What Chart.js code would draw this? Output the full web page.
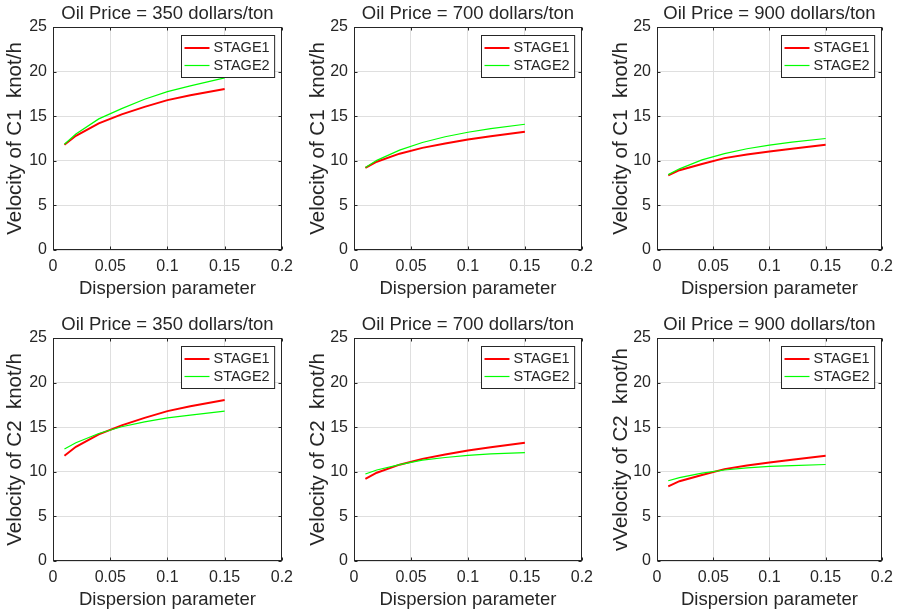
<!DOCTYPE html>
<html>
<head>
<meta charset="utf-8">
<script src="https://cdn.jsdelivr.net/npm/chart.js@4.4.1/dist/chart.umd.min.js"></script>
<style>
  body { margin: 0; background: #fff; }
  #wrap { position: relative; width: 900px; height: 614px; overflow: hidden; }
  .cell { position: absolute; width: 300px; height: 303px; }
</style>
</head>
<body>
<div id="wrap">
  <div class="cell" style="left:0px;top:0px"><canvas id="c0" width="300" height="303"></canvas></div>
  <div class="cell" style="left:300px;top:0px"><canvas id="c1" width="300" height="303"></canvas></div>
  <div class="cell" style="left:600px;top:0px"><canvas id="c2" width="300" height="303"></canvas></div>
  <div class="cell" style="left:0px;top:311px"><canvas id="c3" width="300" height="303"></canvas></div>
  <div class="cell" style="left:300px;top:311px"><canvas id="c4" width="300" height="303"></canvas></div>
  <div class="cell" style="left:600px;top:311px"><canvas id="c5" width="300" height="303"></canvas></div>
</div>
<script>
// Data
const dispersion = [0.01, 0.02, 0.04, 0.06, 0.08, 0.1, 0.12, 0.15];
const xTicks = [0, 0.05, 0.1, 0.15, 0.2];
const yTicks = [0, 5, 10, 15, 20, 25];
const seriesNames = ['STAGE1', 'STAGE2'];
const oilPrices = [350, 700, 900];
const yLabels = [
    'Velocity of C1  knot/h', 'Velocity of C1  knot/h', 'Velocity of C1  knot/h',
    'Velocity of C2  knot/h', 'Velocity of C2  knot/h', 'vVelocity of C2  knot/h'
];
const xLabel = 'Dispersion parameter';

// C1 velocity
const c1Stage1_350 = [11.8, 12.8, 14.2, 15.2, 16.05, 16.8, 17.35, 18.05];
const c1Stage2_350 = [11.85, 13.0, 14.7, 15.85, 16.9, 17.75, 18.4, 19.3];
const c1Stage1_700 = [9.2, 9.9, 10.8, 11.45, 11.95, 12.4, 12.75, 13.25];
const c1Stage2_700 = [9.25, 10.05, 11.2, 12.05, 12.7, 13.2, 13.6, 14.1];
const c1Stage1_900 = [8.37, 8.95, 9.65, 10.3, 10.7, 11.05, 11.35, 11.8];
const c1Stage2_900 = [8.45, 9.1, 10.1, 10.8, 11.35, 11.75, 12.1, 12.5];

// C2 velocity
const c2Stage1_350 = [11.8, 12.8, 14.2, 15.2, 16.05, 16.8, 17.35, 18.05];
const c2Stage2_350 = [12.55, 13.25, 14.3, 15.05, 15.6, 16.05, 16.35, 16.8];
const c2Stage1_700 = [9.2, 9.9, 10.8, 11.45, 11.95, 12.4, 12.75, 13.25];
const c2Stage2_700 = [9.75, 10.2, 10.8, 11.3, 11.6, 11.85, 12.0, 12.15];
const c2Stage1_900 = [8.37, 8.95, 9.65, 10.3, 10.7, 11.05, 11.35, 11.8];
const c2Stage2_900 = [9.0, 9.35, 9.85, 10.2, 10.45, 10.6, 10.7, 10.82];

const panelSeries = [
    [c1Stage1_350, c1Stage2_350],
    [c1Stage1_700, c1Stage2_700],
    [c1Stage1_900, c1Stage2_900],
    [c2Stage1_350, c2Stage2_350],
    [c2Stage1_700, c2Stage2_700],
    [c2Stage1_900, c2Stage2_900]
];

// Layout of each column inside its 300px canvas
const axisLeft = [53, 54, 57];
const axisRight = [283, 285, 287];
const yLabelCenter = [15.5, 18, 21];

const FONT = '"Liberation Sans", Arial, Helvetica, sans-serif';
const INK = '#262626';
const lineColors = ['#ff0000', '#00ff00'];
const lineWidths = [2, 1.2];
const yTitleSize = 20.5;

// Draws the MATLAB-like box, inward ticks, title and legend
const matlabPlugin = {
    id: 'matlab',
    afterDatasetsDraw(chart, args, opts) {
        const ctx = chart.ctx;
        const a = chart.chartArea;
        const sx = chart.scales.x;
        const sy = chart.scales.y;
        ctx.save();
        ctx.strokeStyle = INK;
        ctx.lineWidth = 1;
        const L = Math.round(a.left) + 0.5, R = Math.round(a.right) - 0.5;
        const T = Math.round(a.top) + 0.5, B = Math.round(a.bottom) - 0.5;
        ctx.strokeRect(L, T, R - L, B - T);
        ctx.beginPath();
        xTicks.forEach(v => {
            const px = Math.round(sx.getPixelForValue(v)) + 0.5;
            ctx.moveTo(px, B); ctx.lineTo(px, B - 3);
            ctx.moveTo(px, T); ctx.lineTo(px, T + 3);
        });
        yTicks.forEach(v => {
            const py = Math.round(sy.getPixelForValue(v)) + 0.5;
            ctx.moveTo(L, py); ctx.lineTo(L + 3, py);
            ctx.moveTo(R, py); ctx.lineTo(R - 3, py);
        });
        ctx.stroke();

        // title
        ctx.fillStyle = INK;
        ctx.font = '18.5px ' + FONT;
        ctx.textAlign = 'center';
        ctx.textBaseline = 'middle';
        ctx.fillText(opts.title, (a.left + a.right) / 2, a.top - 13);

        // legend
        ctx.font = '14.5px ' + FONT;
        const names = chart.data.datasets.map(d => d.label);
        const textW = Math.max(...names.map(n => ctx.measureText(n).width));
        const w = 3 + 25 + 4 + textW + 5;
        const h = 42;
        const bx = Math.round(a.right - 8 - w) + 0.5;
        const by = Math.round(a.top + 8) + 0.5;
        ctx.fillStyle = '#fff';
        ctx.fillRect(bx, by, w, h);
        ctx.strokeStyle = INK;
        ctx.lineWidth = 1;
        ctx.strokeRect(bx, by, w, h);
        chart.data.datasets.forEach((d, i) => {
            const ry = by + 12.5 + i * 17.5;
            ctx.strokeStyle = d.borderColor;
            ctx.lineWidth = d.borderWidth;
            ctx.beginPath();
            ctx.moveTo(bx + 3, ry);
            ctx.lineTo(bx + 28, ry);
            ctx.stroke();
            ctx.fillStyle = INK;
            ctx.textAlign = 'left';
            ctx.fillText(d.label, bx + 32, ry);
        });
        ctx.restore();
    }
};

function buildChart(i) {
    const col = i % 3;
    const padLeft = yLabelCenter[col] - yTitleSize * 0.6;
    const yWidth = axisLeft[col] - padLeft;
    const padRight = 300 - axisRight[col];
    const series = panelSeries[i];

    const datasets = series.map((vals, k) => ({
        label: seriesNames[k],
        data: dispersion.map((x, j) => ({ x: x, y: vals[j] })),
        borderColor: lineColors[k],
        backgroundColor: lineColors[k],
        borderWidth: lineWidths[k],
        pointRadius: 0,
        tension: 0,
        fill: false,
        order: 1 - k
    }));

    new Chart(document.getElementById('c' + i), {
        type: 'line',
        data: { datasets: datasets },
        options: {
            responsive: false,
            animation: false,
            events: [],
            layout: { padding: { top: 27, left: padLeft, right: padRight, bottom: 0 } },
            plugins: {
                legend: { display: false },
                tooltip: { enabled: false },
                matlab: { title: 'Oil Price = ' + oilPrices[col] + ' dollars/ton' }
            },
            scales: {
                x: {
                    type: 'linear',
                    min: xTicks[0],
                    max: xTicks[xTicks.length - 1],
                    afterBuildTicks: s => { s.ticks = xTicks.map(v => ({ value: v })); },
                    afterFit: s => { s.height = 53; },
                    grid: { color: '#dfdfdf', drawTicks: false },
                    border: { display: false },
                    ticks: {
                        padding: 7,
                        color: INK,
                        font: { family: FONT, size: 16 },
                        maxRotation: 0,
                        callback: v => String(v)
                    },
                    title: {
                        display: true,
                        text: xLabel,
                        color: INK,
                        font: { family: FONT, size: 18.5 },
                        padding: { top: 0, bottom: 3 }
                    }
                },
                y: {
                    type: 'linear',
                    min: yTicks[0],
                    max: yTicks[yTicks.length - 1],
                    afterBuildTicks: s => { s.ticks = yTicks.map(v => ({ value: v })); },
                    afterFit: s => { s.width = yWidth; },
                    grid: { color: '#dfdfdf', drawTicks: false },
                    border: { display: false },
                    ticks: {
                        padding: 6,
                        color: INK,
                        font: { family: FONT, size: 16 },
                        callback: v => String(v)
                    },
                    title: {
                        display: true,
                        text: yLabels[i],
                        color: INK,
                        font: { family: FONT, size: yTitleSize },
                        padding: { top: 0, bottom: 0 }
                    }
                }
            }
        },
        plugins: [matlabPlugin]
    });
}

for (let i = 0; i < 6; i++) {
    buildChart(i);
}
</script>
</body>
</html>
